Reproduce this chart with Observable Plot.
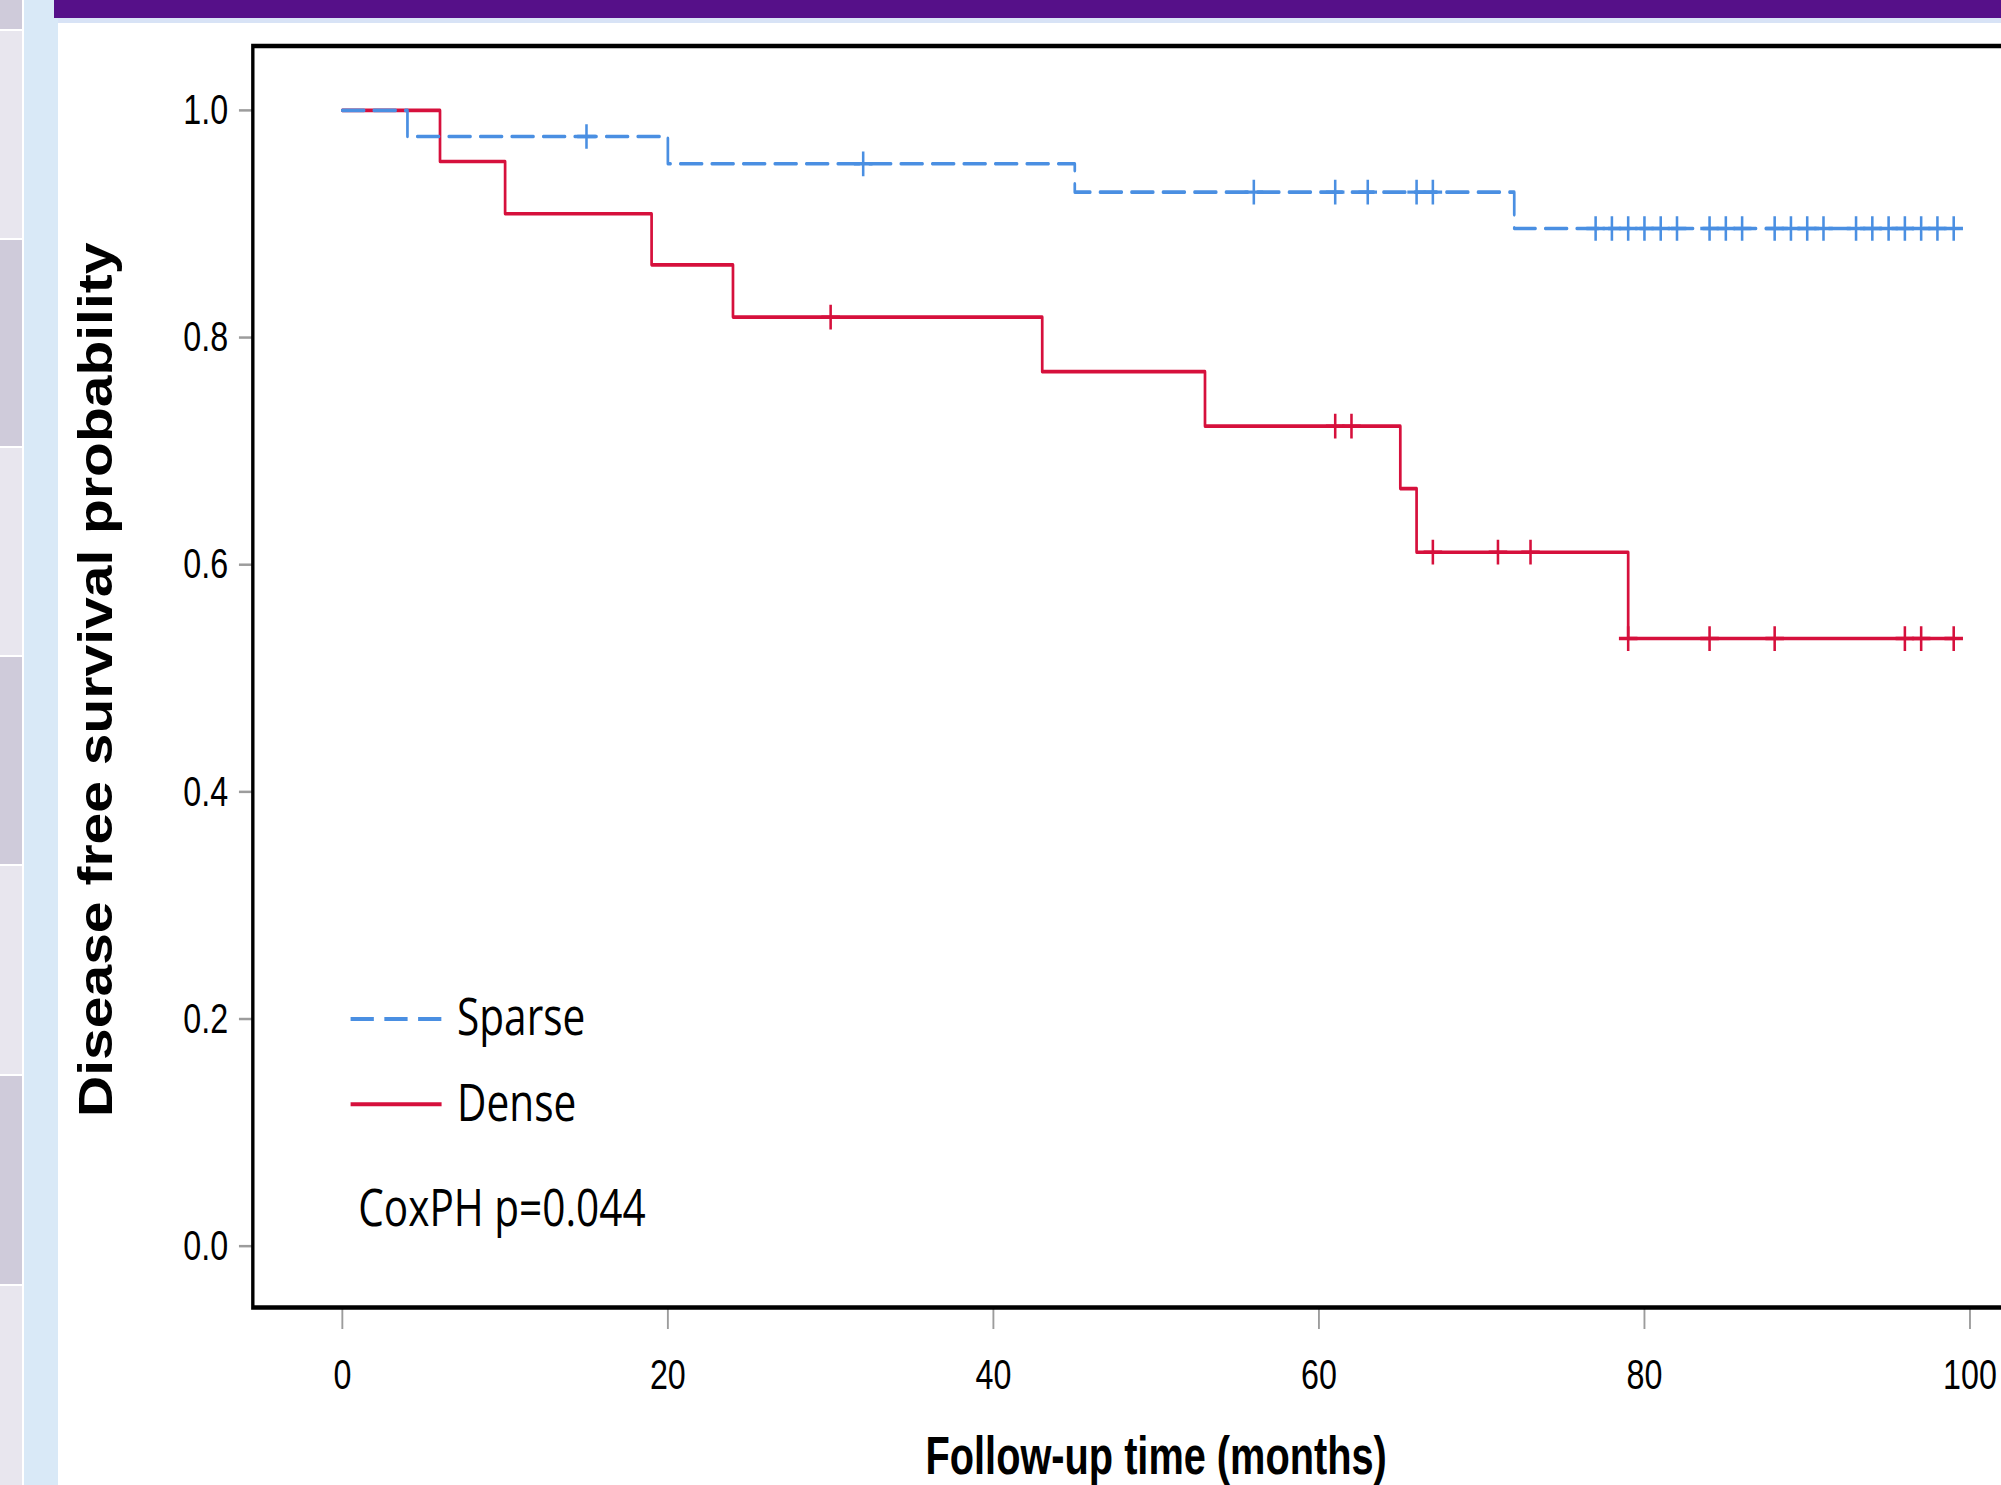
<!DOCTYPE html>
<html>
<head>
<meta charset="utf-8">
<script src="https://cdn.jsdelivr.net/npm/d3@7"></script>
<script src="https://cdn.jsdelivr.net/npm/@observablehq/plot@0.6"></script>
<style>
  html, body { margin: 0; padding: 0; width: 2001px; height: 1485px; overflow: hidden; background: #ffffff; }
  #chart { position: absolute; left: 0; top: 0; transform: scaleX(0.75); transform-origin: 0 0; }
  .deco { position: absolute; z-index: 2; }
</style>
</head>
<body>
<div id="chart"></div>
<!-- slide decoration -->
<div class="deco" style="left:0;top:0;width:22px;height:29px;background:#CFCBDA"></div>
<div class="deco" style="left:0;top:31px;width:22px;height:207px;background:#E8E6EE"></div>
<div class="deco" style="left:0;top:240px;width:22px;height:206px;background:#CFCBDA"></div>
<div class="deco" style="left:0;top:448px;width:22px;height:207px;background:#E8E6EE"></div>
<div class="deco" style="left:0;top:657px;width:22px;height:207px;background:#CFCBDA"></div>
<div class="deco" style="left:0;top:866px;width:22px;height:208px;background:#E8E6EE"></div>
<div class="deco" style="left:0;top:1076px;width:22px;height:208px;background:#CFCBDA"></div>
<div class="deco" style="left:0;top:1286px;width:22px;height:199px;background:#E8E6EE"></div>
<div class="deco" style="left:24px;top:0;width:34px;height:1485px;background:#D9E9F7"></div>
<div class="deco" style="left:54px;top:0;width:1947px;height:18px;background:#561089"></div>
<div class="deco" style="left:58px;top:18px;width:1943px;height:5px;background:#D8E3F6"></div>

<script>
// ---------------- data ----------------
const xTicks = [0, 20, 40, 60, 80, 100];
const yTicks = [0, 0.2, 0.4, 0.6, 0.8, 1.0];

const denseTime = [0, 6, 10, 19, 24, 43, 53, 65, 66, 79, 99];
const denseSurv = [1.0, 0.955, 0.909, 0.864, 0.818, 0.770, 0.722, 0.667, 0.611, 0.535, 0.535];
const denseCensorTime = [30, 61, 62, 67, 71, 73, 79, 84, 88, 96, 97, 99];
const denseCensorSurv = [0.818, 0.722, 0.722, 0.611, 0.611, 0.611, 0.535, 0.535, 0.535, 0.535, 0.535, 0.535];

const sparseTime = [0, 4, 20, 45, 72, 99];
const sparseSurv = [1.0, 0.977, 0.953, 0.928, 0.896, 0.896];
const sparseCensorTime = [15, 32, 56, 61, 63, 66, 67, 77, 78, 79, 80, 81, 82, 84, 85, 86, 88, 89, 90, 91, 93, 94, 95, 96, 97, 98, 99];
const sparseCensorSurv = [0.977, 0.953, 0.928, 0.928, 0.928, 0.928, 0.928,
  0.896, 0.896, 0.896, 0.896, 0.896, 0.896, 0.896, 0.896, 0.896, 0.896,
  0.896, 0.896, 0.896, 0.896, 0.896, 0.896, 0.896, 0.896, 0.896, 0.896];

const legendLabels = ["Sparse", "Dense"];
const statLabel = ["CoxPH p=0.044"];
const xTitle = ["Follow-up time (months)"];
const yTitle = ["Disease free survival probability"];

// ---------------- styling / layout ----------------
const RED = "#D6103C", BLUE = "#4A8FE2";
const W = 2700, H = 1485;
const legendLayout = { x1: 0.53, x2: 6.12, textX: 7.05, lineY: [0.2, 0.125], statX: 0.98, statY: 0.018 };

const dense = denseTime.map((t, i) => ({ t, s: denseSurv[i] }));
const sparse = sparseTime.map((t, i) => ({ t, s: sparseSurv[i] }));
const denseCens = denseCensorTime.map((t, i) => ({ t, s: denseCensorSurv[i] }));
const sparseCens = sparseCensorTime.map((t, i) => ({ t, s: sparseCensorSurv[i] }));
const legendRows = legendLabels.map((label, i) => ({ label, t: legendLayout.textX, s: legendLayout.lineY[i] }));

const chart = Plot.plot({
  width: W,
  height: H,
  marginLeft: 336.6,
  marginRight: W - 2680.4,
  marginTop: 45.5,
  marginBottom: H - 1307,
  x: { domain: [-5.5, 102.5] },
  y: { domain: [-0.054, 1.0567] },
  style: {
    background: "transparent",
    maxWidth: "none",
    overflow: "visible",
    fontFamily: "'Liberation Sans', Arial, sans-serif",
    fontSize: "43px",
    color: "black"
  },
  marks: [
    Plot.axisX({ ticks: xTicks, tickSize: 22, tickPadding: 29, stroke: "#9c9c9c", strokeWidth: 2.5,
                 color: "black", fontSize: 43, label: null, tickFormat: d => String(d) }),
    Plot.axisY({ ticks: yTicks, tickSize: 18, tickPadding: 15, stroke: "#9c9c9c", strokeWidth: 2.5,
                 color: "black", fontSize: 43, label: null, tickFormat: d3.format(".1f") }),
    Plot.frame({ stroke: "black", strokeWidth: 4.5 }),

    Plot.line(dense, { x: "t", y: "s", curve: "step-after", stroke: RED, strokeWidth: 3.6 }),
    Plot.line(sparse, { x: "t", y: "s", curve: "step-after", stroke: BLUE, strokeWidth: 3.6, strokeDasharray: "29,13" }),
    Plot.dot(denseCens, { x: "t", y: "s", symbol: "plus", r: 8, stroke: RED, strokeWidth: 3.4 }),
    Plot.dot(sparseCens, { x: "t", y: "s", symbol: "plus", r: 8, stroke: BLUE, strokeWidth: 3.4 }),

    // legend
    Plot.ruleY([legendLayout.lineY[0]], { x1: legendLayout.x1, x2: legendLayout.x2, stroke: BLUE, strokeWidth: 4, strokeDasharray: "31,14" }),
    Plot.ruleY([legendLayout.lineY[1]], { x1: legendLayout.x1, x2: legendLayout.x2, stroke: RED, strokeWidth: 4 }),
    Plot.text(legendRows, { x: "t", y: "s", text: "label", textAnchor: "start", lineAnchor: "middle",
                            fontFamily: "'Open Sans', sans-serif", fontSize: 51, fill: "black" }),
    Plot.text(statLabel, { x: () => legendLayout.statX, y: () => legendLayout.statY, text: d => d, textAnchor: "start",
                           lineAnchor: "bottom", fontFamily: "'Open Sans', sans-serif", fontSize: 51, fill: "black" }),

    // axis titles
    Plot.text(xTitle, { x: () => 50, frameAnchor: "bottom", dy: 166, lineAnchor: "bottom", textAnchor: "middle", text: d => d,
                        fontWeight: "bold", fontSize: 53, fill: "black" }),
    Plot.text(yTitle, { frameAnchor: "left", dx: -209, dy: 3, rotate: -90, lineAnchor: "middle", textAnchor: "middle", text: d => d,
                        fontWeight: "bold", fontSize: 57, fill: "black" })
  ]
});

// fine text proportions (legend text wider, y title thicker)
d3.select(chart).selectAll("text").each(function () {
  const t = this.textContent;
  const tr = this.getAttribute("transform") || "";
  if (legendLabels.includes(t) || statLabel.includes(t)) {
    this.setAttribute("transform", tr + " scale(1.06,1)");
  } else if (yTitle.includes(t)) {
    this.setAttribute("transform", tr + " scale(1,1.13)");
  }
});

document.getElementById("chart").appendChild(chart);
</script>
</body>
</html>
